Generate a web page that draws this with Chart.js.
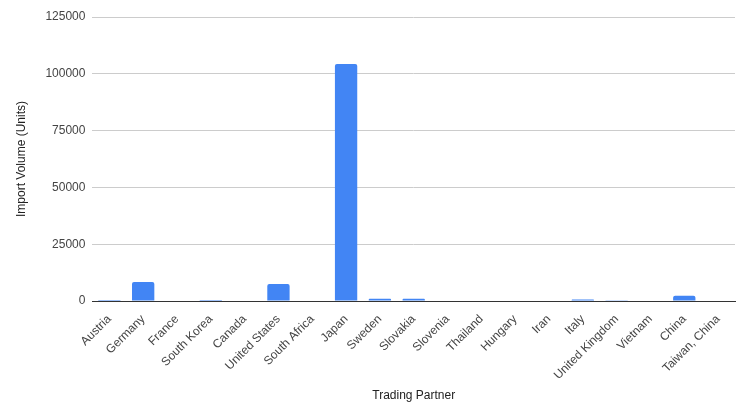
<!DOCTYPE html>
<html><head><meta charset="utf-8">
<script src="https://cdn.jsdelivr.net/npm/chart.js@4"></script>
<style>html,body{margin:0;padding:0;background:#fff;}#wrap{width:749px;height:418px;}</style>
</head><body><div id="wrap"><canvas id="c" width="749" height="418"></canvas></div>
<script>
const categories = ["Austria","Germany","France","South Korea","Canada","United States","South Africa","Japan","Sweden","Slovakia","Slovenia","Thailand","Hungary","Iran","Italy","United Kingdom","Vietnam","China","Taiwan, China"];
const importVolume = [450, 8400, 0, 450, 0, 7500, 0, 104300, 1000, 1000, 0, 0, 0, 0, 650, 350, 0, 2300, 0];
const yTicks = [0, 25000, 50000, 75000, 100000, 125000];
const xTitle = "Trading Partner";
const yTitle = "Import Volume (Units)";

new Chart(document.getElementById('c'), {
  type: 'bar',
  data: { labels: categories, datasets: [{ data: importVolume, backgroundColor: '#4285f4', borderRadius: {topLeft:2, topRight:2}, borderSkipped: 'bottom', barPercentage: 0.66, categoryPercentage: 1 }] },
  options: {
    responsive: false, animation: false,
    layout: { padding: { left: 10, right: 14, top: 17, bottom: 11 } },
    plugins: { legend: { display: false }, tooltip: { enabled: false } },
    scales: {
      x: {
        grid: { display: false },
        border: { display: true, color: '#333', width: 1 },
        ticks: { color: '#444', font: { family: 'Liberation Sans, Arial', size: 12 }, maxRotation: 45, minRotation: 45, autoSkip: false },
        title: { display: true, text: xTitle, color: '#222', font: { family: 'Liberation Sans, Arial', size: 12 }, padding: { top: 3 } }
      },
      y: {
        min: 0, max: 125000,
        afterBuildTicks: s => { s.ticks = yTicks.map(v => ({ value: v })); },
        grid: { color: c => c.tick && c.tick.value === 0 ? '#333' : '#cccccc', drawTicks: false },
        border: { display: false },
        ticks: { color: '#444', padding: 7, font: { family: 'Liberation Sans, Arial', size: 12 }, callback: v => String(v) },
        title: { display: true, text: yTitle, color: '#222', font: { family: 'Liberation Sans, Arial', size: 12 }, padding: { bottom: 10 } }
      }
    }
  }
});
</script></body></html>
